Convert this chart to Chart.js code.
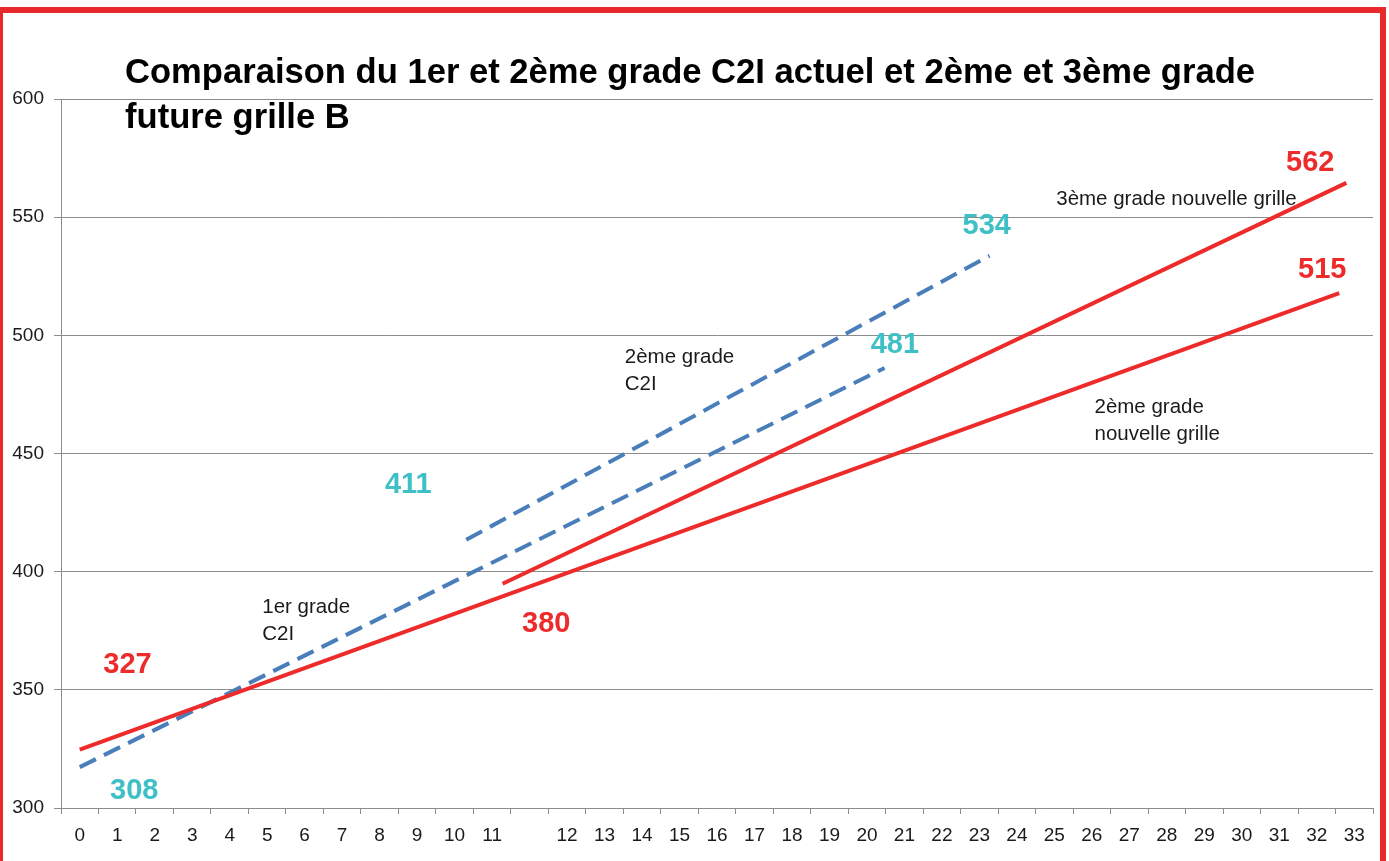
<!DOCTYPE html>
<html>
<head>
<meta charset="utf-8">
<script src="https://cdn.jsdelivr.net/npm/chart.js@4.4.1/dist/chart.umd.min.js"></script>
<style>
  html, body { margin: 0; padding: 0; background: #ffffff; overflow: hidden; }
  #wrap { position: relative; width: 1389px; height: 861px; }
  #frame { position: absolute; left: -3px; top: 7px; width: 1389px; height: 900px; box-sizing: border-box; border: 6px solid #e8282a; pointer-events: none; }
</style>
</head>
<body>
<div id="wrap">
  <canvas id="c" width="1389" height="861"></canvas>
  <div id="frame"></div>
</div>
<script>
// ---- Data ----
const categories = ['0','1','2','3','4','5','6','7','8','9','10','11','',
  '12','13','14','15','16','17','18','19','20','21','22','23','24','25','26','27','28','29','30','31','32','33'];
const yMin = 300, yMax = 600, yStep = 50;

// positions along the category axis (index units) and values
const grade2NouvelleX = [0, 33.6];
const grade2NouvelleY = [324.7, 517.9];
const grade3NouvelleX = [11.28, 33.79];
const grade3NouvelleY = [394.9, 564.5];
const grade1C2IX = [0, 21.47];
const grade1C2IY = [317.3, 486.2];
const grade2C2IX = [10.31, 24.27];
const grade2C2IY = [413.5, 533.7];

const valueLabels = ['327', '308', '411', '380', '534', '481', '562', '515'];
const seriesNames = ['1er grade\nC2I', '2ème grade\nC2I', '3ème grade nouvelle grille', '2ème grade\nnouvelle grille'];
const titleLines = ['Comparaison du 1er et 2ème grade C2I actuel et 2ème et 3ème grade', 'future grille B'];

// ---- Styles / placement ----
const RED = '#ee2b2b';
const BLUE = '#4a7ebb';
const TEAL = '#3fc0c6';
const GRID = '#8c8c8c';
const TXT = '#1a1a1a';
const TICK_FONT = '"Liberation Sans Narrow", "Liberation Sans", Arial, sans-serif';

const pts = (xs, ys) => xs.map((x, i) => ({ x: x, y: ys[i] }));

// annotation anchors (axis units): [text, xIndex, value, color, font]
const valueFont = 'bold 29px "Liberation Sans", Arial, sans-serif';
const noteFont = '20.5px "Liberation Sans", Arial, sans-serif';
const annotations = [
  [valueLabels[0], 0.63, 360.6, RED, valueFont],
  [valueLabels[1], 0.81, 307.0, TEAL, valueFont],
  [valueLabels[2], 8.14, 436.8, TEAL, valueFont],
  [valueLabels[3], 11.80, 378.0, RED, valueFont],
  [valueLabels[4], 23.55, 546.4, TEAL, valueFont],
  [valueLabels[5], 21.10, 496.0, TEAL, valueFont],
  [valueLabels[6], 32.18, 573.1, RED, valueFont],
  [valueLabels[7], 32.50, 527.8, RED, valueFont],
  [seriesNames[0], 4.87, 385.0, TXT, noteFont],
  [seriesNames[1], 14.54, 490.8, TXT, noteFont],
  [seriesNames[2], 26.05, 557.6, TXT, noteFont],
  [seriesNames[3], 27.07, 469.6, TXT, noteFont]
];

const overlayPlugin = {
  id: 'overlay',
  afterDatasetsDraw(chart) {
    const ctx = chart.ctx;
    const xs = chart.scales.xl, ys = chart.scales.y;
    ctx.save();
    ctx.textAlign = 'left';
    ctx.textBaseline = 'middle';
    annotations.forEach(a => {
      const [text, xi, v, color, font] = a;
      ctx.font = font;
      ctx.fillStyle = color;
      const px = xs.getPixelForValue(xi);
      const py = ys.getPixelForValue(v);
      text.split('\n').forEach((line, k) => ctx.fillText(line, px, py + k * 27.5));
    });
    // title
    ctx.font = 'bold 34.6px "Liberation Sans", Arial, sans-serif';
    ctx.fillStyle = '#000000';
    ctx.fillText(titleLines[0], 125, 73);
    ctx.fillText(titleLines[1], 125, 118);
    ctx.restore();
  }
};

const lineDs = (data, color, dash) => ({
  data: data,
  xAxisID: 'xl',
  yAxisID: 'y',
  borderColor: color,
  borderWidth: 4,
  borderDash: dash,
  borderCapStyle: 'butt',
  pointRadius: 0,
  fill: false,
  tension: 0
});

new Chart(document.getElementById('c'), {
  type: 'line',
  data: {
    labels: categories,
    datasets: [
      lineDs(pts(grade3NouvelleX, grade3NouvelleY), RED, []),
      lineDs(pts(grade2NouvelleX, grade2NouvelleY), RED, []),
      lineDs(pts(grade2C2IX, grade2C2IY), BLUE, [18, 9]),
      lineDs(pts(grade1C2IX, grade1C2IY), BLUE, [18, 9])
    ]
  },
  options: {
    responsive: false,
    animation: false,
    layout: { padding: { top: 99, right: 16, bottom: 0, left: 0 } },
    plugins: { legend: { display: false }, tooltip: { enabled: false }, title: { display: false } },
    scales: {
      x: {
        type: 'category',
        position: 'bottom',
        offset: true,
        grid: { offset: true, drawOnChartArea: false, drawTicks: true, tickLength: 6, color: GRID },
        border: { display: true, color: GRID, width: 1 },
        ticks: { autoSkip: false, maxRotation: 0, padding: 10, color: TXT,
                 font: { family: TICK_FONT, size: 19 } },
        afterFit: s => { s.height = 53; }
      },
      xl: { type: 'linear', display: false, min: -0.5, max: 34.5 },
      y: {
        min: yMin, max: yMax,
        ticks: { stepSize: yStep, padding: 10, color: TXT,
                 font: { family: TICK_FONT, size: 19 } },
        grid: { color: GRID, tickLength: 7, drawTicks: true },
        border: { display: true, color: GRID, width: 1 },
        afterFit: s => { s.width = 61; }
      }
    }
  },
  plugins: [overlayPlugin]
});
</script>
</body>
</html>
